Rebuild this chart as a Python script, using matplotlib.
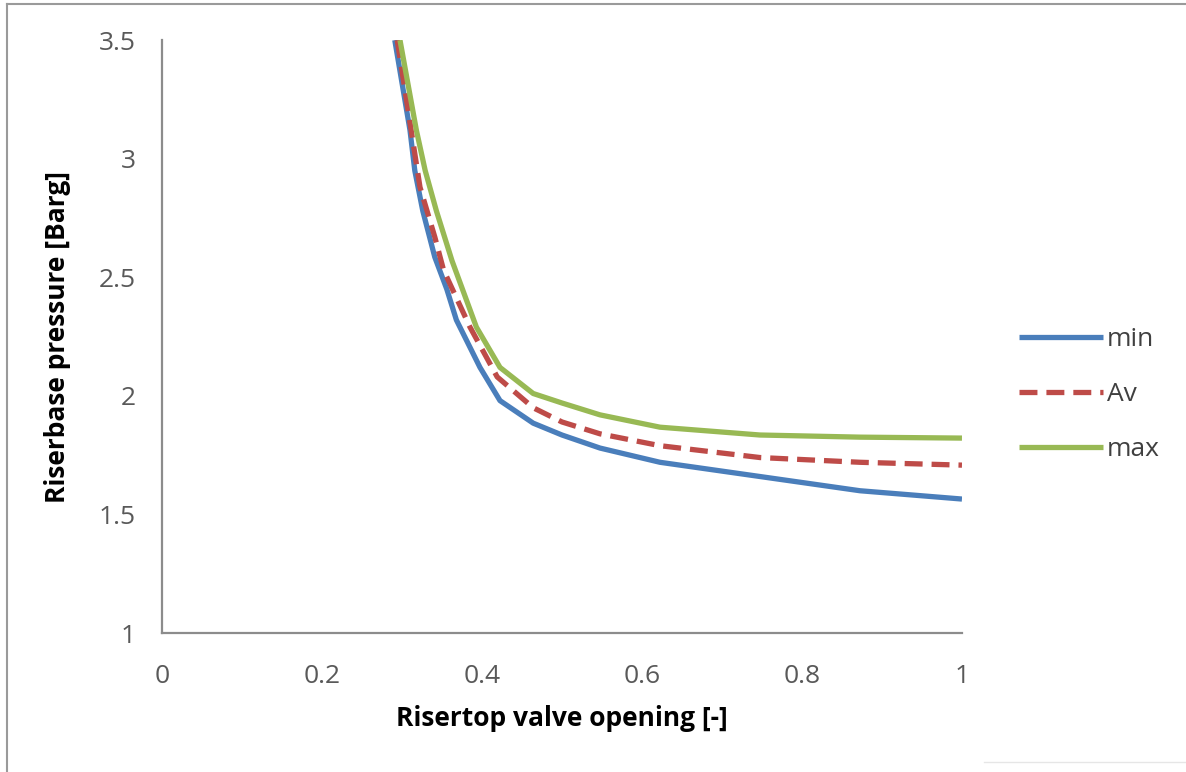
import numpy as np
import matplotlib
matplotlib.use('Agg')
import matplotlib.pyplot as plt
from matplotlib.lines import Line2D

plt.rcParams['font.family'] = ['Open Sans', 'DejaVu Sans']

# valve opening vs riser base pressure
x_min = [0.291, 0.31, 0.316, 0.326, 0.341, 0.356, 0.368, 0.3975, 0.4225, 0.464,
         0.5, 0.5475, 0.6225, 0.7475, 0.8725, 1.0]
y_min = [3.5, 3.12, 2.95, 2.78, 2.585, 2.45, 2.32, 2.12, 1.98, 1.885,
         1.835, 1.78, 1.72, 1.66, 1.60, 1.565]

x_av = [0.294, 0.3225, 0.341, 0.352, 0.385, 0.419, 0.464, 0.5, 0.5475, 0.6225,
        0.7475, 0.8725, 1.0]
y_av = [3.5, 2.88, 2.67, 2.53, 2.29, 2.08, 1.95, 1.89, 1.84, 1.79,
        1.74, 1.72, 1.708]

x_max = [0.2975, 0.318, 0.329, 0.343, 0.3625, 0.393, 0.4225, 0.464, 0.5, 0.5475,
         0.6225, 0.7475, 0.8725, 1.0]
y_max = [3.5, 3.12, 2.95, 2.78, 2.57, 2.29, 2.12, 2.01, 1.97, 1.92,
         1.868, 1.835, 1.826, 1.822]

xticks = [0, 0.2, 0.4, 0.6, 0.8, 1]
xtick_labels = ['0', '0.2', '0.4', '0.6', '0.8', '1']
yticks = [1, 1.5, 2, 2.5, 3, 3.5]
ytick_labels = ['1', '1.5', '2', '2.5', '3', '3.5']

fig = plt.figure(figsize=(11.86, 7.72), dpi=100)
ax = fig.add_axes([0.1366, 0.180, 0.6745, 0.768])

ax.plot(x_min, y_min, color='#4a7ebb', lw=3.8, label='min',
        solid_capstyle='butt', solid_joinstyle='round')
ax.plot(x_av, y_av, color='#be4b48', lw=3.8, dashes=(3.4, 1.7), label='Av')
ax.plot(x_max, y_max, color='#98b954', lw=3.8, label='max',
        solid_capstyle='butt', solid_joinstyle='round')

ax.set_xlim(0, 1)
ax.set_ylim(1, 3.5)
ax.set_xticks(xticks)
ax.set_xticklabels(xtick_labels)
ax.set_yticks(yticks)
ax.set_yticklabels(ytick_labels)
ax.tick_params(length=0, labelsize=19, labelcolor='#595959')
ax.tick_params(axis='x', pad=22)
ax.tick_params(axis='y', pad=19)

for s in ['top', 'right']:
    ax.spines[s].set_visible(False)
for s in ['left', 'bottom']:
    ax.spines[s].set_color('#8c8c8c')
    ax.spines[s].set_linewidth(1.6)

ax.set_xlabel('Risertop valve opening [-]', fontsize=19, fontweight='bold', labelpad=12)
ax.set_ylabel('Riserbase pressure [Barg]', fontsize=19, fontweight='bold', labelpad=20)

leg = ax.legend(loc='center left', bbox_to_anchor=(1.041, 0.402), frameon=False,
                fontsize=19, handlelength=3.2, handletextpad=0.15, labelspacing=1.13)
for t in leg.get_texts():
    t.set_color('#404040')

# outer chart border (left/top gray)
fig.add_artist(Line2D([0.006, 0.006], [0, 0.995], color='#9a9a9a', lw=1.5))
fig.add_artist(Line2D([0.006, 1.0], [0.995, 0.995], color='#9a9a9a', lw=1.5))
fig.add_artist(Line2D([0.83, 1.0], [0.013, 0.013], color='#e6e6e6', lw=1.0))

fig.savefig('out.png', dpi=100)
